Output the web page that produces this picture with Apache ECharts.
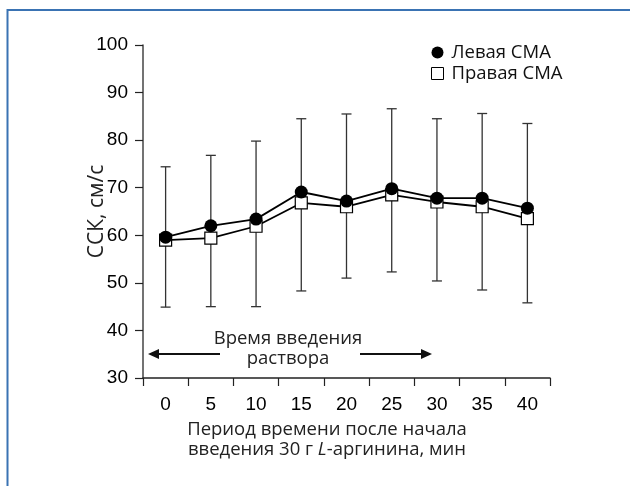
<!DOCTYPE html>
<html>
<head>
<meta charset="utf-8">
<script src="https://cdn.jsdelivr.net/npm/echarts@6/dist/echarts.min.js"></script>
<style>
  html, body { margin: 0; padding: 0; background: #fff; }
  #chart { width: 630px; height: 486px; }
</style>
</head>
<body>
<div id="chart"></div>
<script>
// minutes after start of infusion
const minutes = ['0', '5', '10', '15', '20', '25', '30', '35', '40']
const leftCma = [59.6, 62.0, 63.4, 69.1, 67.2, 69.8, 67.8, 67.8, 65.7]
const rightCma = [59.0, 59.4, 61.9, 66.8, 66.0, 68.5, 67.0, 66.0, 63.5]
const errLow = [44.9, 45.0, 45.0, 48.3, 51.0, 52.3, 50.4, 48.5, 45.8]
const errHigh = [74.4, 76.8, 79.8, 84.5, 85.5, 86.6, 84.5, 85.6, 83.5]

const labelFont = 'Liberation Sans, Arial, sans-serif'
const textFont = 'Open Sans, Noto Sans, sans-serif'

const chart = echarts.init(document.getElementById('chart'))

const errData = minutes.map((m, i) => [i, errLow[i], errHigh[i]])

const renderErr = (params, api) => {
  const lo = api.coord([api.value(0), api.value(1)])
  const hi = api.coord([api.value(0), api.value(2)])
  const cap = 5
  const style = { stroke: '#333', lineWidth: 1.3 }
  return {
    type: 'group',
    children: [
      { type: 'line', shape: { x1: lo[0], y1: lo[1], x2: hi[0], y2: hi[1] }, style },
      { type: 'line', shape: { x1: lo[0] - cap, y1: lo[1], x2: lo[0] + cap, y2: lo[1] }, style },
      { type: 'line', shape: { x1: hi[0] - cap, y1: hi[1], x2: hi[0] + cap, y2: hi[1] }, style }
    ]
  }
}

const option = {
  animation: false,
  backgroundColor: '#fff',
  grid: { left: 143, right: 80, top: 45, bottom: 108, containLabel: false },
  legend: {
    orient: 'vertical',
    left: 426,
    top: 38,
    itemWidth: 12,
    itemHeight: 12,
    itemGap: 2,
    textStyle: { fontFamily: textFont, fontSize: 18.5, color: '#111', padding: [0, 0, 0, 3] },
    data: [
      { name: 'Левая СМА', icon: 'circle', itemStyle: { color: '#000' } },
      { name: 'Правая СМА', icon: 'rect', itemStyle: { color: '#fff', borderColor: '#000', borderWidth: 1 } }
    ]
  },
  xAxis: {
    type: 'category',
    data: minutes,
    boundaryGap: true,
    axisLine: { lineStyle: { color: '#222', width: 1.5 } },
    axisTick: { show: true, length: 8, lineStyle: { color: '#222', width: 1.2 } },
    axisLabel: { margin: 17, fontFamily: labelFont, fontSize: 19, color: '#000' },
    name: 'Период времени после начала\nвведения 30 г {i|L}-аргинина, мин',
    nameLocation: 'middle',
    nameGap: 42,
    nameMoveOverlap: false,
    nameTextStyle: {
      fontFamily: textFont, fontSize: 18.5, color: '#222', lineHeight: 20,
      padding: [0, 39, 0, 0],
      rich: { i: { fontFamily: textFont, fontSize: 18.5, fontStyle: 'italic', color: '#222' } }
    }
  },
  yAxis: {
    type: 'value',
    min: 30,
    max: 100,
    interval: 10,
    splitLine: { show: false },
    axisLine: { show: true, lineStyle: { color: '#444', width: 1.5 } },
    axisTick: { show: true, length: 8, lineStyle: { color: '#222', width: 1.2 } },
    axisLabel: { margin: 15, fontFamily: labelFont, fontSize: 19, color: '#000' },
    name: 'ССК, см/с',
    nameLocation: 'middle',
    nameGap: 35,
    nameMoveOverlap: false,
    nameTextStyle: { fontFamily: textFont, fontSize: 21, color: '#222' }
  },
  series: [
    {
      name: 'errors',
      type: 'custom',
      renderItem: renderErr,
      data: errData,
      encode: { x: 0, y: [1, 2] },
      z: 1,
      silent: true
    },
    {
      name: 'Правая СМА',
      type: 'line',
      data: rightCma,
      symbol: 'rect',
      symbolSize: 12,
      lineStyle: { color: '#000', width: 1.8 },
      itemStyle: { color: '#fff', borderColor: '#000', borderWidth: 1.2 },
      z: 2
    },
    {
      name: 'Левая СМА',
      type: 'line',
      data: leftCma,
      symbol: 'circle',
      symbolSize: 13,
      lineStyle: { color: '#000', width: 1.8 },
      itemStyle: { color: '#000' },
      z: 3
    }
  ],
  graphic: [
    // frame
    { type: 'rect', shape: { x: 7.5, y: 10, width: 700, height: 600 }, style: { fill: null, stroke: '#3a73b3', lineWidth: 2 }, silent: true },
    // infusion period annotation
    { type: 'text', x: 288, y: 329, style: { text: 'Время введения\nраствора', align: 'center', fontFamily: textFont, fontSize: 18.5, lineHeight: 20, fill: '#222' } },
    { type: 'line', shape: { x1: 156, y1: 354, x2: 220, y2: 354 }, style: { stroke: '#111', lineWidth: 1.8 } },
    { type: 'polygon', shape: { points: [[148, 354], [159, 349], [159, 359]] }, style: { fill: '#111' } },
    { type: 'line', shape: { x1: 360, y1: 354, x2: 424, y2: 354 }, style: { stroke: '#111', lineWidth: 1.8 } },
    { type: 'polygon', shape: { points: [[432, 354], [421, 349], [421, 359]] }, style: { fill: '#111' } }
  ]
}

chart.setOption(option)
</script>
</body>
</html>
